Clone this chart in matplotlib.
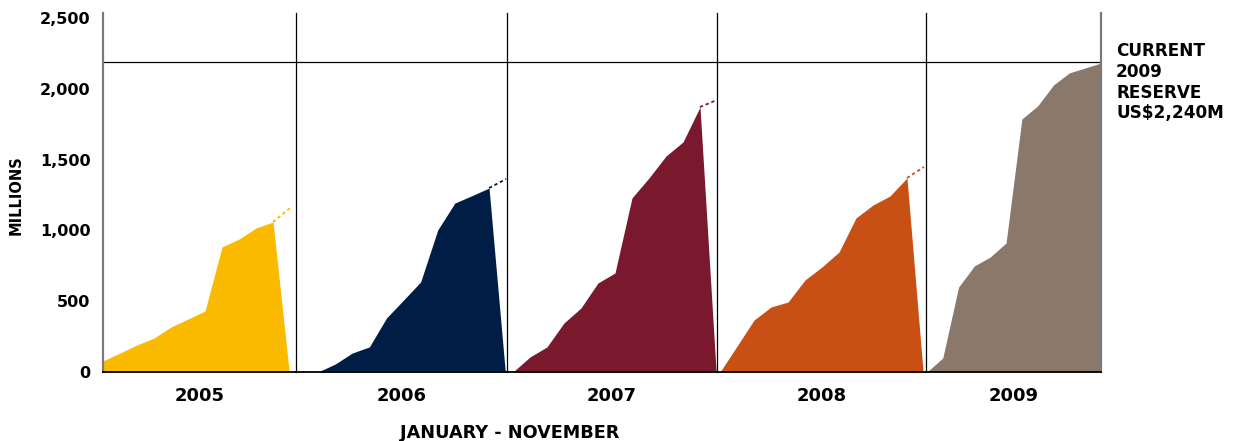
import numpy as np
import matplotlib
matplotlib.use('Agg')
import matplotlib.pyplot as plt
from matplotlib.ticker import FuncFormatter

# monthly reserve values (US$ millions)
years = ['2005', '2006', '2007', '2008', '2009']
reserve_2005 = [78, 134, 191, 240, 318, 374, 431, 883, 939, 1017, 1059]
reserve_2006 = [0, 0, 56, 134, 177, 381, 508, 636, 1003, 1193, 1245, 1299]
reserve_2007 = [0, 106, 177, 346, 452, 629, 699, 1229, 1370, 1525, 1624, 1871]
reserve_2008 = [0, 183, 367, 459, 494, 650, 742, 847, 1088, 1179, 1243, 1370]
reserve_2009 = [0, 99, 600, 749, 812, 911, 1787, 1879, 2027, 2112, 2147, 2182]
# projected year-end value (dotted continuation), None for 2009
projected = [1158, 1363, 1921, 1448, None]
current_reserve = 2190

series = [reserve_2005, reserve_2006, reserve_2007, reserve_2008, reserve_2009]
colors = ['#F9BA00', '#001E45', '#7A192E', '#C95015', '#8A786A']

# panel layout in pixels
W, H = 1233, 441
edges = [103, 296, 507, 717, 926, 1101]
top_px, bot_px = 13, 372
xlims = [(0, 11.35), (-0.29, 12.05), (-0.35, 12.0), (-0.18, 12.12), (-0.06, 11.0)]

fig = plt.figure(figsize=(W / 100, H / 100), dpi=100)
fig.patch.set_facecolor('white')

font = dict(family='DejaVu Sans', weight='bold', color='black')

for i, (yr, vals, col) in enumerate(zip(years, series, colors)):
    l, r = edges[i], edges[i + 1]
    ax = fig.add_axes([l / W, (H - bot_px) / H, (r - l) / W, (bot_px - top_px) / H])
    x = np.arange(len(vals))
    if projected[i] is not None:
        xf = np.append(x, len(vals) - 0.05)
        yf = np.append(vals, 0)
        ax.plot([len(vals) - 1, len(vals)], [vals[-1], projected[i]],
                color=col, lw=1.3, dashes=(1.8, 1.6), clip_on=False)
    else:
        xf, yf = x, np.array(vals)
    ax.fill_between(xf, yf, 0, color=col, lw=0)
    ax.axhline(current_reserve, color='black', lw=0.9)

    ax.set_xlim(*xlims[i])
    ax.set_ylim(0, 2535)
    ax.set_xticks([])
    ax.spines['top'].set_visible(False)
    ax.spines['bottom'].set_color('black')
    ax.spines['bottom'].set_linewidth(1.3)
    if i == 0:
        ax.spines['left'].set_color('#7a7a7a')
        ax.spines['left'].set_linewidth(1.6)
        ax.set_yticks(np.arange(0, 2501, 500))
        ax.yaxis.set_major_formatter(FuncFormatter(lambda v, p: f'{int(v):,}'))
        ax.tick_params(axis='y', length=0, pad=9)
        for t in ax.get_yticklabels():
            t.set_fontweight('bold')
            t.set_fontsize(11.5)
    else:
        ax.spines['left'].set_color('black')
        ax.spines['left'].set_linewidth(0.9)
        ax.set_yticks([])
    if i == len(years) - 1:
        ax.spines['right'].set_color('#7a7a7a')
        ax.spines['right'].set_linewidth(1.6)
    else:
        ax.spines['right'].set_visible(False)
    ax.patch.set_alpha(0)

    ax.text(0.5, -24 / (bot_px - top_px), yr, transform=ax.transAxes,
            ha='center', va='center', fontsize=13, **font)

fig.text(16 / W, 1 - 195 / H, 'MILLIONS', rotation=90, ha='center', va='center',
         fontsize=10.5, **font)
fig.text(510 / W, 1 - 433 / H, 'JANUARY - NOVEMBER', ha='center', va='center',
         fontsize=12.7, **font)
fig.text(1116 / W, 1 - 42 / H, 'CURRENT\n2009\nRESERVE\nUS$2,240M', ha='left', va='top',
         fontsize=12.2, linespacing=1.2, **font)

fig.savefig('out.png', dpi=100, facecolor='white')
